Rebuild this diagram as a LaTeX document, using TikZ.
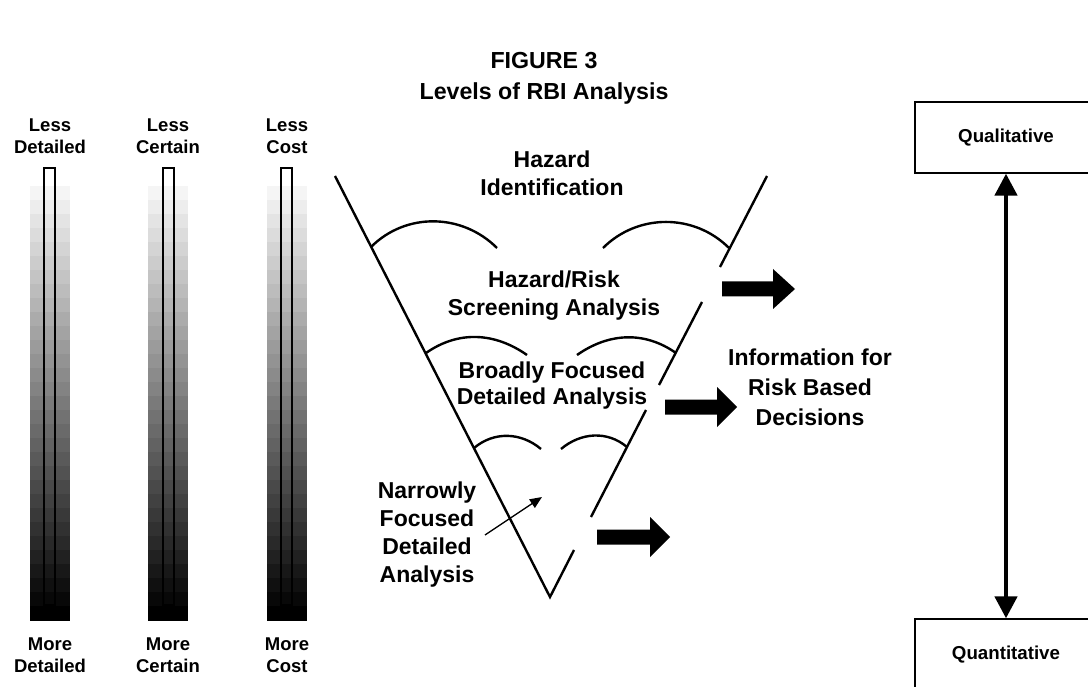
\documentclass[tikz,border=0pt]{standalone}
\usepackage{fontspec}
\setmainfont{Liberation Sans}
\usetikzlibrary{arrows.meta}
\begin{document}
\begin{tikzpicture}[x=1pt,y=-1pt,
  lbl/.style={font=\bfseries\fontsize{18.5}{22.5}\selectfont, align=center, inner sep=0pt},
  big/.style={font=\bfseries\fontsize{23}{28}\selectfont, align=center, inner sep=0pt},
  funnel/.style={line width=2.4pt},
  capline/.style={line width=2.4pt},
  blockarrow/.style={fill=black, draw=none},
  boxnode/.style={draw, line width=1.3pt, minimum width=182pt, minimum height=71pt, inner sep=0pt, font=\bfseries\fontsize{18.7}{22}\selectfont},
  innerbar/.style={draw, line width=1.2pt}
]
\useasboundingbox (0,0) rectangle (1088,687);
\clip (0,0) rectangle (1088,687);

% title
\node[big, font=\bfseries\fontsize{23.2}{31}\selectfont] (title) at (544,78) {FIGURE 3\\Levels of RBI Analysis};

% gradient bars
\foreach \bx/\ix in {30/44, 148/163, 267/281} {
  \foreach \i in {0,...,30} {
    \pgfmathsetmacro\g{96*(1-\i/30)}
    \fill[white!\g!black] ({\bx},{186+14*\i}) rectangle ({\bx+40},{200.5+14*\i});
  }
  \draw[innerbar] ({\ix},168) rectangle ({\ix+11},605);
}

% bar labels
\node[lbl] (l1t) at (50,136) {Less\\Detailed};
\node[lbl] (l2t) at (168,136) {Less\\Certain};
\node[lbl] (l3t) at (287,136) {Less\\Cost};
\node[lbl] (l1b) at (50,655) {More\\Detailed};
\node[lbl] (l2b) at (168,655) {More\\Certain};
\node[lbl] (l3b) at (287,655) {More\\Cost};

% funnel
\coordinate (ftl) at (335,176);
\coordinate (fv) at (550,597);
\coordinate (ftr) at (767,176);
\coordinate (r1a) at (720,267);
\coordinate (r1b) at (702,302);
\coordinate (r2a) at (659,385);
\coordinate (r2b) at (646,410);
\coordinate (r3a) at (591,517);
\coordinate (r3b) at (574,550);
\draw[funnel] (ftl) -- (fv) -- (r3b);
\draw[funnel] (ftr) -- (r1a);
\draw[funnel] (r1b) -- (r2a);
\draw[funnel] (r2b) -- (r3a);

% arcs
\draw[capline] (371,247) to[out=45,in=135] (497,248);
\draw[capline] (603,248) to[out=45,in=135] (729,248);
\draw[capline] (426,353) to[out=35,in=145] (527,355);
\draw[capline] (577,355) to[out=35,in=145] (676,353);
\draw[capline] (474,448) to[out=40,in=140] (541,449);
\draw[capline] (561,449) to[out=40,in=140] (627,447);

% funnel texts
\node[big] (haz) at (552,173) {Hazard\\Identification};
\node[big] (screen) at (554,296) {Hazard/Risk\\Screening Analysis};
\node[big, font=\bfseries\fontsize{23}{26}\selectfont] (broad) at (552,386) {Broadly Focused\\Detailed Analysis};
\node[big] (narrow) at (427,535) {Narrowly\\Focused\\Detailed\\Analysis};
\node[big, font=\bfseries\fontsize{23}{30}\selectfont] (info) at (810,387) {Information for\\Risk Based\\Decisions};

% thin arrow
\coordinate (nstart) at (485,535);
\coordinate (nend) at (542,497);
\draw[line width=1.3pt, -{Triangle[length=12pt,width=10pt]}] (nstart) -- (nend);

% block arrows
\foreach \t/\b/\p/\c in {722/773/795/289, 665/717/737/407, 597/650/670/537} {
  \fill[blockarrow] ({\t},{\c-7.5}) -- ({\b},{\c-7.5}) -- ({\b},{\c-20}) -- ({\p},{\c}) -- ({\b},{\c+20}) -- ({\b},{\c+7.5}) -- ({\t},{\c+7.5}) -- cycle;
}

% boxes
\node[boxnode] (qual) at (1006,137.5) {Qualitative};
\node[boxnode] (quant) at (1006,654.5) {Quantitative};
\draw[line width=4.5pt, {Triangle[length=22pt,width=22pt]}-{Triangle[length=22pt,width=22pt]}] (qual.south) -- (quant.north);
\end{tikzpicture}
\end{document}
